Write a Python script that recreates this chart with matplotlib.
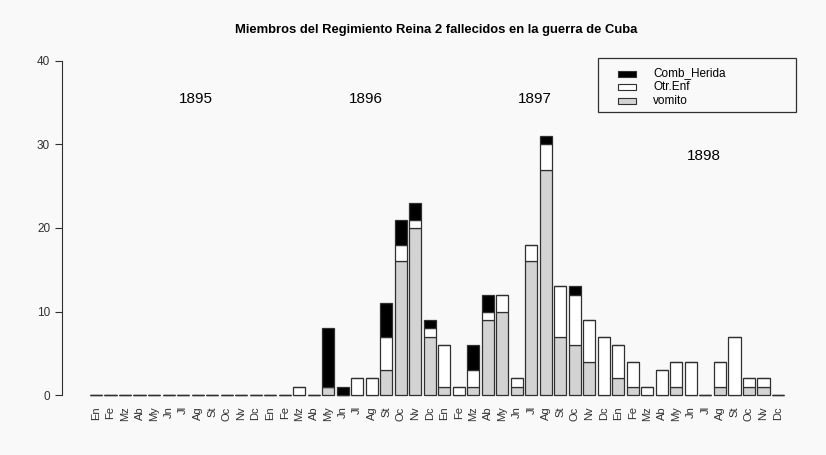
import matplotlib
matplotlib.use("Agg")
import matplotlib.pyplot as plt
from matplotlib.patches import Rectangle

plt.rcParams['font.family'] = ['Liberation Sans', 'DejaVu Sans']

# ---- data ----
months = ["En", "Fe", "Mz", "Ab", "My", "Jn", "Jl", "Ag", "St", "Oc", "Nv", "Dc"]
years = ["1895", "1896", "1897", "1898"]
labels = months * 4

vomito = [0, 0, 0, 0, 0, 0, 0, 0, 0, 0, 0, 0,
          0, 0, 0, 0, 1, 0, 0, 0, 3, 16, 20, 7,
          1, 0, 1, 9, 10, 1, 16, 27, 7, 6, 4, 0,
          2, 1, 0, 0, 1, 0, 0, 1, 0, 1, 1, 0]
otr_enf = [0, 0, 0, 0, 0, 0, 0, 0, 0, 0, 0, 0,
           0, 0, 1, 0, 0, 0, 2, 2, 4, 2, 1, 1,
           5, 1, 2, 1, 2, 1, 2, 3, 6, 6, 5, 7,
           4, 3, 1, 3, 3, 4, 0, 3, 7, 1, 1, 0]
comb_herida = [0, 0, 0, 0, 0, 0, 0, 0, 0, 0, 0, 0,
               0, 0, 0, 0, 7, 1, 0, 0, 4, 3, 2, 1,
               0, 0, 3, 2, 0, 0, 0, 1, 0, 1, 0, 0,
               0, 0, 0, 0, 0, 0, 0, 0, 0, 0, 0, 0]

W, H = 826, 455
fig = plt.figure(figsize=(W / 100, H / 100), dpi=100, facecolor='#f9f9f9')
ax = fig.add_axes([62.2 / W, 1 - 408.4 / H, 749.6 / W, 360.8 / H])
ax.set_facecolor('#f9f9f9')

# R barplot style positions: width 1, space 0.2
x = [0.7 + 1.2 * i for i in range(len(labels))]
edge = '#303030'
bottom2 = [v + o for v, o in zip(vomito, otr_enf)]
ax.bar(x, vomito, width=1, color='#d3d3d3', edgecolor=edge, linewidth=0.9)
ax.bar(x, otr_enf, width=1, bottom=vomito, color='white', edgecolor=edge, linewidth=0.9)
ax.bar(x, comb_herida, width=1, bottom=bottom2, color='black', edgecolor=edge, linewidth=0.9)

ax.set_xlim(-2.096, 59.896)
ax.set_ylim(-1.6, 41.6)
for s in ['top', 'right', 'bottom']:
    ax.spines[s].set_visible(False)
ax.spines['left'].set_bounds(0, 40)
ax.spines['left'].set_color('#303030')
ax.set_yticks([0, 10, 20, 30, 40])
ax.tick_params(axis='y', length=4.7, pad=4, labelsize=8.5, colors='#303030')
ax.set_xticks(x)
ax.set_xticklabels(labels, rotation=90, fontsize=8)
ax.tick_params(axis='x', length=0, pad=-1.5, colors='#303030')

# year annotations
for xp, yp, yr in zip([9, 23, 37, 51], [35.5, 35.5, 35.5, 28.6], years):
    ax.text(xp, yp, yr, ha='center', va='center', fontsize=11)

fig.text(436 / W, 1 - 30.5 / H, "Miembros del Regimiento Reina 2 fallecidos en la guerra de Cuba",
         ha='center', va='center', fontsize=9.35, fontweight='bold')

# legend drawn R-style
def fx(px):
    return px / W

def fy(py):
    return 1 - py / H

fig.patches.append(Rectangle((fx(598), fy(112)), (796 - 598) / W, (112 - 58) / H,
                             transform=fig.transFigure, facecolor='none',
                             edgecolor='#303030', linewidth=0.9))
leg_items = [("Comb_Herida", 'black'), ("Otr.Enf", 'white'), ("vomito", '#d3d3d3')]
for i, (name, col) in enumerate(leg_items):
    yc = 73.5 + 13.5 * i
    fig.patches.append(Rectangle((fx(618), fy(yc + 3)), 18 / W, 6 / H,
                                 transform=fig.transFigure, facecolor=col,
                                 edgecolor='#303030', linewidth=0.8))
    fig.text(fx(653), fy(yc), name, ha='left', va='center', fontsize=8.5)

fig.savefig("out.png", dpi=100, facecolor=fig.get_facecolor())
